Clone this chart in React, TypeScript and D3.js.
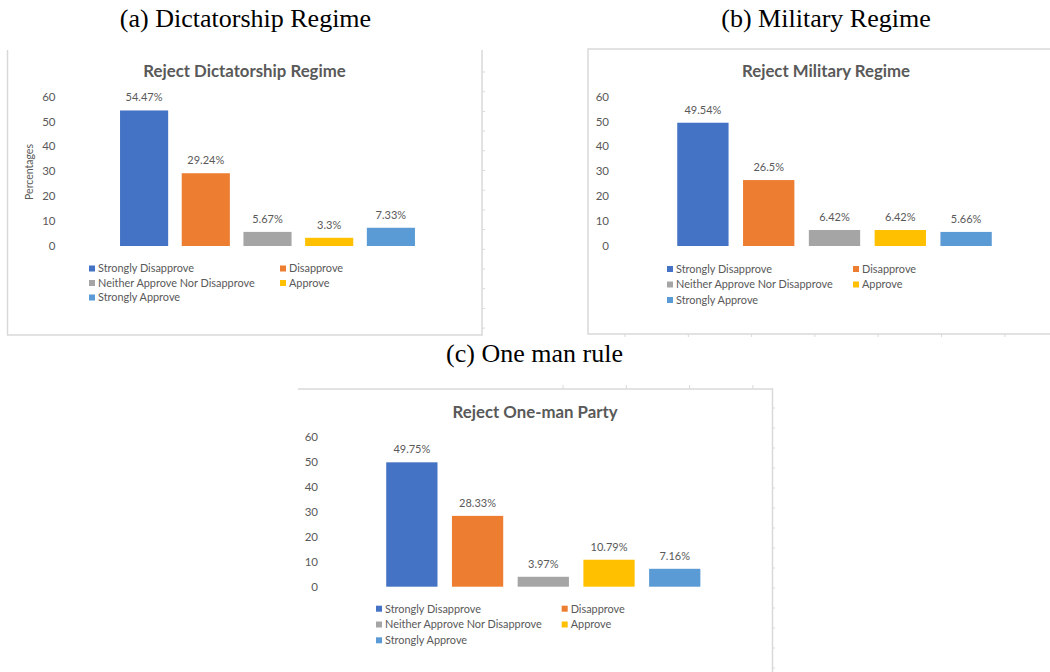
import React from "react";
import * as d3 from "d3";

const categories = [
  "Strongly Disapprove",
  "Disapprove",
  "Neither Approve Nor Disapprove",
  "Approve",
  "Strongly Approve",
];
const dictatorshipValues = [54.47, 29.24, 5.67, 3.3, 7.33];
const militaryValues = [49.54, 26.5, 6.42, 6.42, 5.66];
const oneManValues = [49.75, 28.33, 3.97, 10.79, 7.16];
const yTicks = [0, 10, 20, 30, 40, 50, 60];
const colors = ["#4472C4", "#ED7D31", "#A5A5A5", "#FFC000", "#5B9BD5"];

const FONT = "Lato, 'Open Sans', sans-serif";
const TEXT = "#595959";
const BORDER = "#D9D9D9";

type PanelProps = {
  title: string;
  values: number[];
  titleX: number;
  titleY: number;
  barX: [number, number];
  yRange: [number, number];
  tickX: number;
  legendX: [number, number];
  legendY: number;
  legendStep: number;
  yLabel?: { x: number; y: number };
};

const Panel = ({ title, values, titleX, titleY, barX, yRange, tickX, legendX, legendY, legendStep, yLabel }: PanelProps) => {
  const x = d3.scaleBand<string>().domain(categories).range(barX).paddingInner(0.22).paddingOuter(0.11);
  const y = d3.scaleLinear().domain([0, 60]).range(yRange);

  // legend: two columns, filled row by row
  const legendItems = categories.map((c, i) => ({
    c,
    i,
    lx: legendX[i % 2],
    ly: legendY + Math.floor(i / 2) * legendStep,
  }));

  return (
    <g fontFamily={FONT}>
      <text x={titleX} y={titleY} textAnchor="middle" fontSize={16.8} fontWeight={700} fill={TEXT}>
        {title}
      </text>
      {yTicks.map((t) => (
        <text key={t} x={tickX} y={y(t)} dy="0.35em" textAnchor="end" fontSize={11.5} fill={TEXT}>
          {t}
        </text>
      ))}
      {yLabel && (
        <text
          transform={`translate(${yLabel.x},${yLabel.y}) rotate(-90)`}
          textAnchor="middle"
          fontSize={10.5}
          fill={TEXT}
        >
          Percentages
        </text>
      )}
      {values.map((v, i) => (
        <g key={categories[i]}>
          <rect
            x={x(categories[i])}
            y={y(v)}
            width={x.bandwidth()}
            height={y(0) - y(v)}
            fill={colors[i]}
          />
          <text
            x={(x(categories[i]) as number) + x.bandwidth() / 2}
            y={y(v) - 9}
            textAnchor="middle"
            fontSize={11}
            fill={TEXT}
          >
            {v}%
          </text>
        </g>
      ))}
      {legendItems.map(({ c, i, lx, ly }) => (
        <g key={c}>
          <rect x={lx} y={ly - 3} width={6} height={6} fill={colors[i]} />
          <text x={lx + 9} y={ly} dy="0.35em" fontSize={10.9} fill={TEXT}>
            {c}
          </text>
        </g>
      ))}
    </g>
  );
};

const App = () => {
  const serif = "'Liberation Serif', 'DejaVu Serif', serif";
  return (
    <svg width={1050} height={672} style={{ position: "absolute", left: 0, top: 0, background: "#fff" }}>
      <rect width={1050} height={672} fill="#fff" />
      {/* captions */}
      <text x={245.5} y={27} textAnchor="middle" fontFamily={serif} fontSize={26} fill="#000">
        (a) Dictatorship Regime
      </text>
      <text x={826} y={27} textAnchor="middle" fontFamily={serif} fontSize={26} fill="#000">
        (b) Military Regime
      </text>
      <text x={534.5} y={362} textAnchor="middle" fontFamily={serif} fontSize={26} fill="#000">
        (c) One man rule
      </text>

      {/* panel frames and sheet grid remnants */}
      <g stroke={BORDER} strokeWidth={1.5} fill="none">
        <path d="M7.5,50 V335 H482 V50" />
        {d3.range(72, 335, 19.7).map((ty) => (
          <line key={"ra" + ty} x1={482} x2={485} y1={ty} y2={ty} strokeWidth={1} />
        ))}
        <path d="M1050,49 H588 V334 H1050" />
        {d3.range(625, 1050, 63.3).map((tx) => (
          <line key={"bb" + tx} x1={tx} x2={tx} y1={334} y2={337} strokeWidth={1} />
        ))}
        <path d="M298,389 H772.5 V672" />
        {d3.range(563, 772, 63.3).map((tx) => (
          <line key={"tc" + tx} x1={tx} x2={tx} y1={385} y2={389} strokeWidth={1} />
        ))}
        {d3.range(408, 672, 20).map((ty) => (
          <line key={"rc" + ty} x1={772.5} x2={775} y1={ty} y2={ty} strokeWidth={1} />
        ))}
      </g>

      <Panel
        title="Reject Dictatorship Regime"
        values={dictatorshipValues}
        titleX={244.5}
        titleY={77}
        barX={[113.25, 421.75]}
        yRange={[246, 96.7]}
        tickX={55.5}
        legendX={[89, 280]}
        legendY={268.5}
        legendStep={14.5}
        yLabel={{ x: 33, y: 172 }}
      />
      <Panel
        title="Reject Military Regime"
        values={militaryValues}
        titleX={826}
        titleY={77}
        barX={[670, 999]}
        yRange={[246, 96.7]}
        tickX={609}
        legendX={[667, 853]}
        legendY={269}
        legendStep={15.5}
      />
      <Panel
        title="Reject One-man Party"
        values={oneManValues}
        titleX={535}
        titleY={417.5}
        barX={[379, 707.6]}
        yRange={[586.7, 436.7]}
        tickX={318}
        legendX={[376, 561.7]}
        legendY={608.7}
        legendStep={15.8}
      />
    </svg>
  );
};

export default App;
